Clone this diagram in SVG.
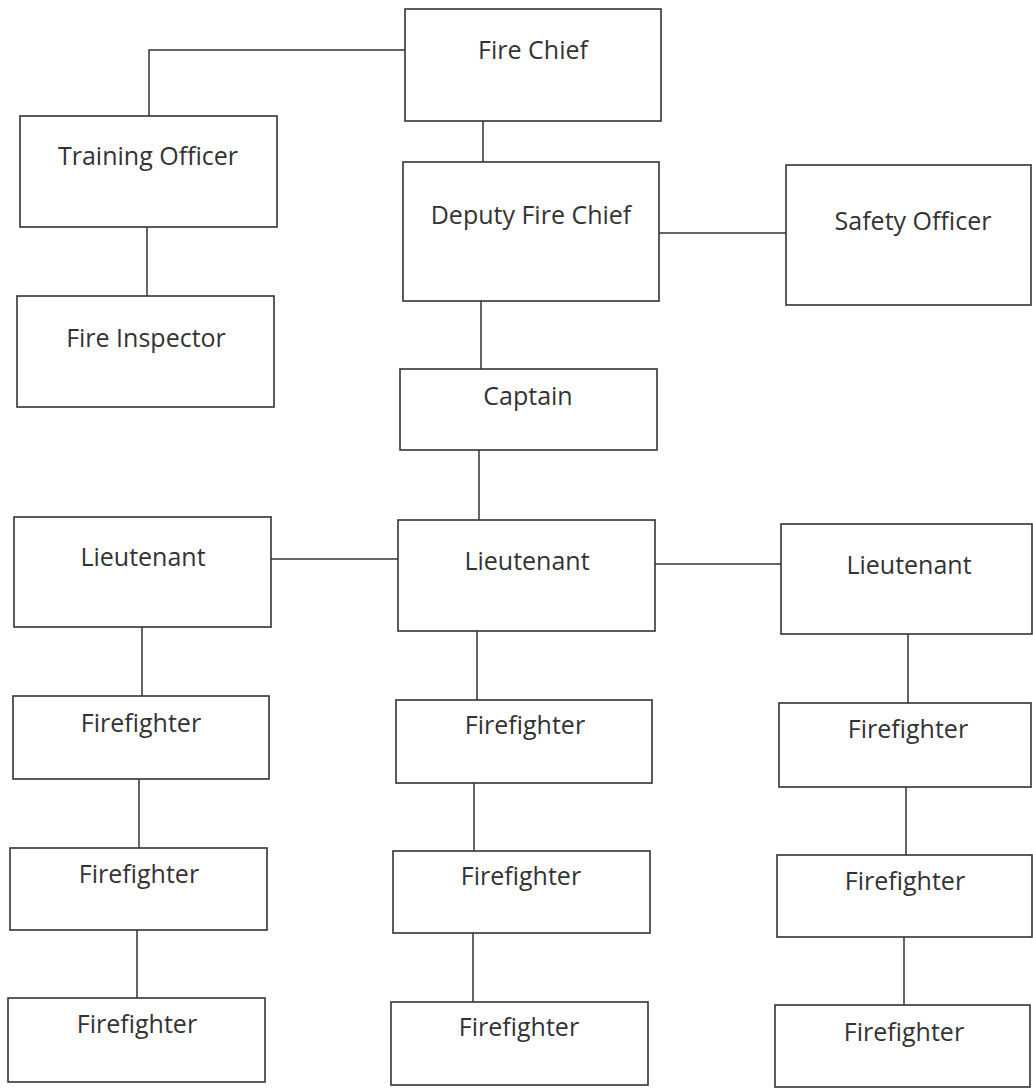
<svg xmlns="http://www.w3.org/2000/svg" width="1033" height="1088" viewBox="0 0 1033 1088">
<style>
.box{fill:#fff;stroke:#333;stroke-width:1.6}
.lbl{font-family:"Open Sans","Noto Sans",sans-serif;font-size:25px;fill:#333;text-anchor:middle}
.con{fill:none;stroke:#333;stroke-width:1.5}
</style>
<rect width="1033" height="1088" fill="#fff"/>
<g id="connectors">
<path class="con" d="M405,50 H149 V116"/>
<path class="con" d="M147,227 V296"/>
<path class="con" d="M483,120 V162"/>
<path class="con" d="M659,233 H786"/>
<path class="con" d="M481,301 V369"/>
<path class="con" d="M479,450 V520"/>
<path class="con" d="M271,559 H398"/>
<path class="con" d="M655,564 H781"/>
<path class="con" d="M142,627 V696"/>
<path class="con" d="M139,779 V848"/>
<path class="con" d="M137,930 V998"/>
<path class="con" d="M477,631 V700"/>
<path class="con" d="M474,783 V851"/>
<path class="con" d="M473,933 V1002"/>
<path class="con" d="M908,634 V703"/>
<path class="con" d="M906,787 V855"/>
<path class="con" d="M904,937 V1005"/>
</g>
<g id="fire-chief"><rect class="box" x="405" y="9" width="256" height="112"/><text class="lbl" x="533" y="59">Fire Chief</text></g>
<g id="training-officer"><rect class="box" x="20" y="116" width="257" height="111"/><text class="lbl" x="148" y="165">Training Officer</text></g>
<g id="fire-inspector"><rect class="box" x="17" y="296" width="257" height="111"/><text class="lbl" x="146" y="347">Fire Inspector</text></g>
<g id="deputy-fire-chief"><rect class="box" x="403" y="162" width="256" height="139"/><text class="lbl" x="531" y="224">Deputy Fire Chief</text></g>
<g id="safety-officer"><rect class="box" x="786" y="165" width="245" height="140"/><text class="lbl" x="913" y="230">Safety Officer</text></g>
<g id="captain"><rect class="box" x="400" y="369" width="257" height="81"/><text class="lbl" x="528" y="405">Captain</text></g>
<g id="lieutenant-left"><rect class="box" x="14" y="517" width="257" height="110"/><text class="lbl" x="143" y="566">Lieutenant</text></g>
<g id="lieutenant-mid"><rect class="box" x="398" y="520" width="257" height="111"/><text class="lbl" x="527" y="570">Lieutenant</text></g>
<g id="lieutenant-right"><rect class="box" x="781" y="524" width="251" height="110"/><text class="lbl" x="909" y="574">Lieutenant</text></g>
<g id="firefighter-l1"><rect class="box" x="13" y="696" width="256" height="83"/><text class="lbl" x="141" y="732">Firefighter</text></g>
<g id="firefighter-l2"><rect class="box" x="10" y="848" width="257" height="82"/><text class="lbl" x="139" y="883">Firefighter</text></g>
<g id="firefighter-l3"><rect class="box" x="8" y="998" width="257" height="84"/><text class="lbl" x="137" y="1033">Firefighter</text></g>
<g id="firefighter-m1"><rect class="box" x="396" y="700" width="256" height="83"/><text class="lbl" x="525" y="734">Firefighter</text></g>
<g id="firefighter-m2"><rect class="box" x="393" y="851" width="257" height="82"/><text class="lbl" x="521" y="885">Firefighter</text></g>
<g id="firefighter-m3"><rect class="box" x="391" y="1002" width="257" height="83"/><text class="lbl" x="519" y="1036">Firefighter</text></g>
<g id="firefighter-r1"><rect class="box" x="779" y="703" width="252" height="84"/><text class="lbl" x="908" y="738">Firefighter</text></g>
<g id="firefighter-r2"><rect class="box" x="777" y="855" width="255" height="82"/><text class="lbl" x="905" y="890">Firefighter</text></g>
<g id="firefighter-r3"><rect class="box" x="775" y="1005" width="255" height="82"/><text class="lbl" x="904" y="1041">Firefighter</text></g>
</svg>
